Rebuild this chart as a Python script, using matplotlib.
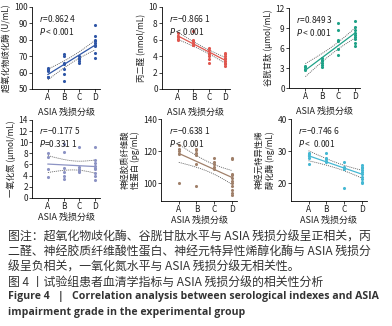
import numpy as np
import matplotlib
matplotlib.use('Agg')
import matplotlib.pyplot as plt

plt.rcParams['font.family'] = ['Noto Sans CJK SC', 'DejaVu Sans']
plt.rcParams['mathtext.fontset'] = 'dejavusans'
plt.rcParams['axes.unicode_minus'] = False

GRADES = ['A', 'B', 'C', 'D']

# values, one list per grade
sod = [[63, 62, 61.5, 61, 57, 57],
       [71, 70, 66, 65, 62, 59, 55],
       [70, 69, 68, 67, 66],
       [89, 82, 80, 79, 78, 77, 76, 72, 69]]
mda = [[6.8, 6.5, 6.3, 6.1, 6.0],
       [7.0, 6.0, 5.8, 5.6, 5.4, 5.3],
       [5.0, 4.7, 4.4, 4.2, 4.0, 3.6, 3.2],
       [4.4, 4.2, 4.0, 3.8, 3.6, 3.4, 3.2, 3.0, 2.8]]
gsh = [[3.3, 3.1, 2.9, 2.7],
       [4.5, 4.2, 4.0, 3.7, 3.4, 3.1],
       [9.7, 8.7, 7.2, 7.0, 5.8, 5.0],
       [10.1, 9.2, 8.7, 8.3, 8.0, 7.7, 7.3, 6.8, 6.3]]
no = [[8.0, 7.4, 5.2, 3.7],
      [9.7, 8.3, 5.3, 4.6, 3.9, 3.4],
      [9.2, 5.6, 5.2, 4.9, 4.7],
      [9.2, 6.8, 6.2, 5.8, 5.4, 5.1, 4.5, 4.0, 3.3]]
gfap = [[124, 121.5, 120, 118, 100],
        [121.5, 120.5, 119, 117.5, 112, 98],
        [115.5, 113.5, 112, 110, 109],
        [116, 115, 106, 105, 103, 101.5, 100, 98, 96, 94, 92.5]]
nse = [[29.5, 29, 28.5, 28, 26],
       [29.6, 28, 27.5, 27, 26.5],
       [26.7, 25.2, 24.8, 24.5, 18.4],
       [25.7, 25.2, 24.7, 24.2, 23.5, 22.8, 22, 21.2, 20.5, 20]]

r_texts = ['0.862 4', '\u22120.866 1', '0.849 3', '\u22120.177 5', '\u22120.638 1', '\u22120.746 6']
p_texts = [' < 0.001', ' < 0.001', ' < 0.001', '=0.331 1', ' < 0.001', ' <  0.001']
ylabels = ['超氧化物歧化酶 (U/mL)', '丙二醛 (nmol/mL)', '谷胱甘肽 (μmol/mL)',
           '一氧化氮 (μmol/mL)', '神经胶质纤维酸\n性蛋白 (pg/mL)', '神经元特异性烯\n醇化酶 (ng/mL)']
ylims = [(50, 100), (0, 10), (0, 12), (0, 14), (89, 140), (14.5, 40)]
yticks = [[50, 60, 70, 80, 90, 100], [0, 2, 4, 6, 8, 10], [0, 3, 6, 9, 12],
          list(range(0, 15, 2)), [100, 120, 140], [20, 30, 40]]
colors = ['#2f56a6', '#e0574f', '#1fa288', '#8c93c4', '#a0806a', '#45b8d3']
datasets = [sod, mda, gsh, no, gfap, nse]

# axes boxes [left, bottom, width, height] in figure fractions
boxes = [[0.082, 0.727, 0.173, 0.252], [0.413, 0.727, 0.173, 0.252], [0.737, 0.730, 0.181, 0.245],
         [0.082, 0.393, 0.173, 0.239], [0.411, 0.384, 0.194, 0.250], [0.742, 0.384, 0.194, 0.250]]

fig = plt.figure(figsize=(3.92, 3.26), dpi=100)

for i in range(6):
    ax = fig.add_axes(boxes[i])
    data = datasets[i]
    xs = np.concatenate([[k + 1] * len(v) for k, v in enumerate(data)])
    ys = np.concatenate(data)
    ax.scatter(xs, ys, s=5, color=colors[i], zorder=3, linewidths=0)

    # linear fit with 95% confidence band
    slope, icpt = np.polyfit(xs, ys, 1)
    xf = np.linspace(1, 4, 50)
    yf = slope * xf + icpt
    n = len(xs)
    resid = ys - (slope * xs + icpt)
    s_err = np.sqrt(np.sum(resid ** 2) / (n - 2))
    ci = 2.03 * s_err * np.sqrt(1 / n + (xf - xs.mean()) ** 2 / np.sum((xs - xs.mean()) ** 2))
    ax.plot(xf, yf, color=colors[i], lw=0.9, zorder=2)
    ax.plot(xf, yf + ci, color='#555555', lw=0.6, ls=(0, (1.2, 1.2)), zorder=2)
    ax.plot(xf, yf - ci, color='#555555', lw=0.6, ls=(0, (1.2, 1.2)), zorder=2)

    ax.set_xlim(0, 4.3)
    ax.set_ylim(ylims[i])
    ax.set_xticks([1, 2, 3, 4])
    ax.set_xticklabels(GRADES)
    ax.set_yticks(yticks[i])
    ax.spines['top'].set_visible(False)
    ax.spines['right'].set_visible(False)
    ax.spines['left'].set_linewidth(0.6)
    ax.spines['bottom'].set_linewidth(0.6)
    ax.tick_params(labelsize=6, width=0.6, length=2, pad=1, colors='#222222')
    ax.set_ylabel(ylabels[i], fontsize=6, labelpad=2, color='#222222', linespacing=1.2)
    ax.set_xlabel('ASIA 残损分级', fontsize=6.5, labelpad=1 if i >= 3 else 4, color='#222222')

    ax.text(0.1, 0.93, '$r$=' + r_texts[i], transform=ax.transAxes, fontsize=6, va='top', color='#222222')
    ax.text(0.1, 0.77, '$P$' + p_texts[i], transform=ax.transAxes, fontsize=6, va='top', color='#222222')

caption = ['图注：超氧化物歧化酶、谷胱甘肽水平与 ASIA 残损分级呈正相关，丙',
           '二醛、神经胶质纤维酸性蛋白、神经元特异性烯醇化酶与 ASIA 残损分',
           '级呈负相关，一氧化氮水平与 ASIA 残损分级无相关性。',
           '图 4 丨试验组患者血清学指标与 ASIA 残损分级的相关性分析']
eng = ['Figure 4   |   Correlation analysis between serological indexes and ASIA',
       'impairment grade in the experimental group']
ys_px = [237, 252, 267, 282]
for line, yp in zip(caption, ys_px):
    fig.text(8 / 392, 1 - yp / 326, line, fontsize=8.6, va='center', ha='left', color='#333333')
for line, yp in zip(eng, [297, 312]):
    fig.text(8 / 392, 1 - yp / 326, line, fontsize=7.6, va='center', ha='left',
             color='#333333', fontweight='bold', family=['Open Sans', 'DejaVu Sans'])

fig.savefig('out.png', dpi=100)
